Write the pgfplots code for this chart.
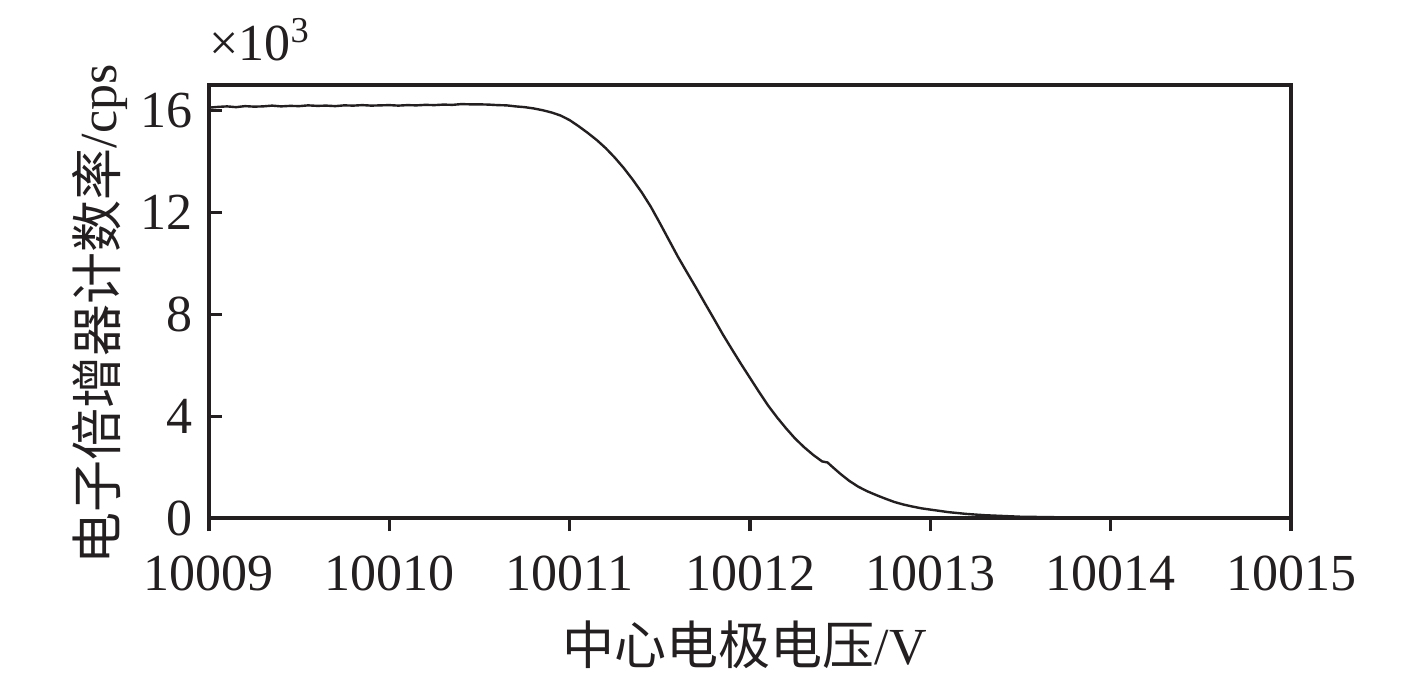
\documentclass[border=0pt]{standalone}
\usepackage{pgfplots}
\pgfplotsset{compat=1.18}
\usepackage{fontspec}
\setmainfont{Liberation Serif}
\newfontfamily\cjk{Noto Sans CJK SC}
\definecolor{ink}{HTML}{231F20}
\begin{document}
\begin{tikzpicture}
\begin{axis}[
  scale only axis,
  width=541pt, height=216.5pt,
  xmin=10009, xmax=10015, ymin=0, ymax=17,
  xtick={10009,10010,10011,10012,10013,10014,10015},
  ytick={0,4,8,12,16},
  xticklabels={10009,10010,10011,10012,10013,10014,10015},
  scaled x ticks=false,
  scaled y ticks=false,
  /pgf/number format/assume math mode=true,
  tick pos=left,
  xtick align=outside,
  ytick align=inside,
  major tick length=6.5pt,
  axis line style={line width=1.6pt, ink},
  every tick/.style={line width=1.6pt, ink},
  font=\fontsize{26}{31}\selectfont,
  tick label style={font=\fontsize{26}{31}\selectfont, text=ink},
  xticklabel style={yshift=-9pt},
  yticklabel style={xshift=-4.5pt},
  xlabel={{\cjk 中心电极电压}/V},
  ylabel={{\cjk 电子倍增器计数率}/cps},
  label style={text=ink},
  xlabel style={at={(axis description cs:0.495,-0.293)}, anchor=center},
  ylabel style={at={(axis description cs:-0.1007,0.47)}, anchor=center, rotate=0},
  clip=false,
]
\addplot[ink, line width=1.2pt, line join=round] coordinates {
(10009.00,16.11) (10009.05,16.14) (10009.10,16.16) (10009.15,16.13) (10009.20,16.17)
(10009.25,16.15) (10009.30,16.16) (10009.35,16.19) (10009.40,16.16) (10009.45,16.18)
(10009.50,16.17) (10009.55,16.20) (10009.60,16.18) (10009.65,16.19) (10009.70,16.17)
(10009.75,16.20) (10009.80,16.19) (10009.85,16.21) (10009.90,16.19) (10009.95,16.20)
(10010.00,16.21) (10010.05,16.19) (10010.10,16.21) (10010.15,16.20) (10010.20,16.22)
(10010.25,16.21) (10010.30,16.23) (10010.35,16.22) (10010.40,16.25) (10010.45,16.24)
(10010.50,16.24) (10010.55,16.23) (10010.60,16.21) (10010.65,16.20) (10010.70,16.16)
(10010.75,16.13) (10010.80,16.08) (10010.85,16.01) (10010.90,15.92) (10010.95,15.80)
(10011.00,15.62) (10011.05,15.38) (10011.10,15.12) (10011.15,14.84) (10011.20,14.52)
(10011.25,14.15) (10011.30,13.74) (10011.35,13.28) (10011.40,12.78) (10011.45,12.22)
(10011.50,11.58) (10011.55,10.92) (10011.60,10.26) (10011.65,9.65) (10011.70,9.05)
(10011.75,8.43) (10011.80,7.82) (10011.85,7.20) (10011.90,6.62) (10011.95,6.05)
(10012.00,5.50) (10012.05,4.95) (10012.10,4.42) (10012.15,3.95) (10012.20,3.52)
(10012.25,3.12) (10012.30,2.78) (10012.35,2.48) (10012.40,2.22) (10012.43,2.18)
(10012.45,2.05) (10012.50,1.74) (10012.55,1.46) (10012.60,1.23) (10012.65,1.05)
(10012.70,0.90) (10012.75,0.76) (10012.80,0.63) (10012.85,0.53) (10012.90,0.45)
(10012.95,0.38) (10013.00,0.33) (10013.10,0.23) (10013.20,0.16) (10013.30,0.11)
(10013.40,0.08) (10013.50,0.05) (10013.60,0.04) (10013.70,0.03) (10013.85,0.02)
(10014.00,0.02) (10014.25,0.01) (10014.50,0.01) (10014.75,0.01) (10015.00,0.01)
};
\node[anchor=south west, inner sep=0pt, text=ink] at (axis description cs:0,1.055) {×10\textsuperscript{3}};
\end{axis}
\pgfresetboundingbox
\path[use as bounding box] (-104.5pt,-85.5pt) rectangle (604pt,259pt);
\end{tikzpicture}
\end{document}
